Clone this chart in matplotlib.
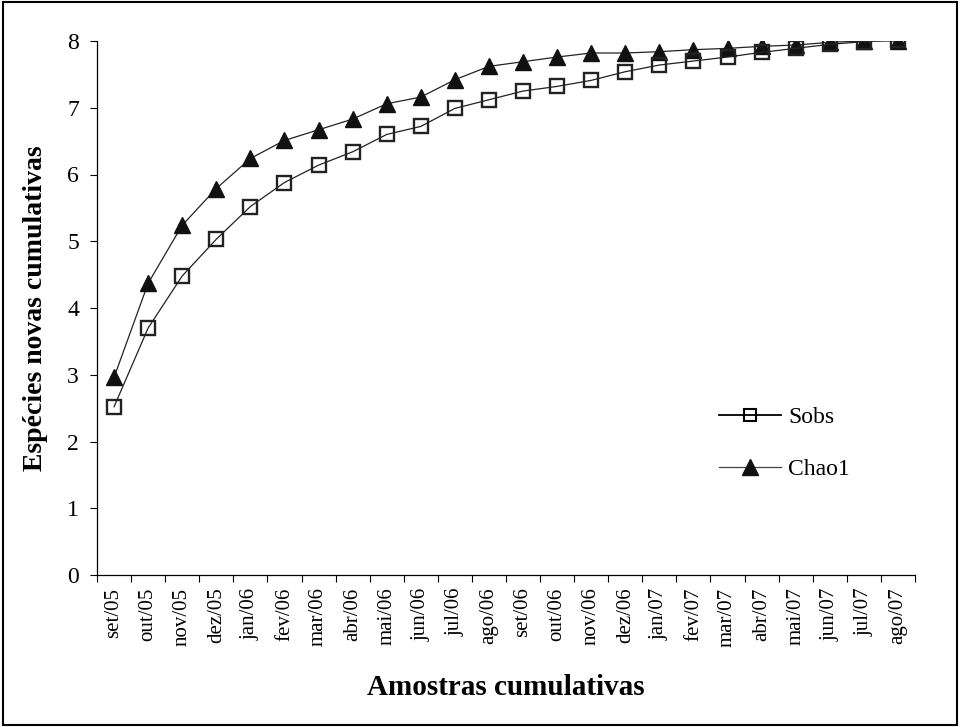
import matplotlib
matplotlib.use("Agg")
import matplotlib.pyplot as plt
from matplotlib.lines import Line2D
from matplotlib.patches import Rectangle

months = ["set/05", "out/05", "nov/05", "dez/05", "jan/06", "fev/06", "mar/06", "abr/06",
          "mai/06", "jun/06", "jul/06", "ago/06", "set/06", "out/06", "nov/06", "dez/06",
          "jan/07", "fev/07", "mar/07", "abr/07", "mai/07", "jun/07", "jul/07", "ago/07"]
sobs = [2.52, 3.70, 4.48, 5.03, 5.52, 5.88, 6.14, 6.34, 6.60, 6.72, 6.99, 7.12,
        7.25, 7.32, 7.41, 7.54, 7.64, 7.70, 7.76, 7.83, 7.89, 7.95, 7.99, 8.02]
chao1 = [2.96, 4.37, 5.24, 5.79, 6.24, 6.51, 6.67, 6.83, 7.06, 7.16, 7.42, 7.62,
         7.69, 7.76, 7.82, 7.82, 7.84, 7.87, 7.89, 7.92, 7.94, 7.98, 8.00, 8.00]
yticks = [0, 1, 2, 3, 4, 5, 6, 7, 8]

plt.rcParams['font.family'] = ['Liberation Serif', 'DejaVu Serif']

fig = plt.figure(figsize=(9.6, 7.27), dpi=100)
fig.patches.append(Rectangle((0.003, 0.003), 0.994, 0.994, transform=fig.transFigure,
                             fill=False, edgecolor='black', linewidth=1.5, zorder=10))
ax = fig.add_axes([97/960, 152/727, (915-97)/960, (575-41)/727])

x = list(range(len(months)))
ax.plot(x, chao1, color='#222222', linewidth=0.9, marker='^', markersize=11,
        markerfacecolor='#111111', markeredgecolor='#111111', label='Chao1', zorder=3)
ax.plot(x, sobs, color='#222222', linewidth=0.9, marker='s', markersize=9.5,
        markerfacecolor='none', markeredgecolor='#222222', markeredgewidth=1.7,
        label='Sobs', zorder=4)

ax.set_xlim(-0.5, len(months) - 0.5)
ax.set_ylim(0, 8)
ax.set_yticks(yticks)
ax.set_yticklabels([str(v) for v in yticks], fontsize=17)
ax.set_xticks(x)
ax.set_xticklabels(months, rotation=90, fontsize=15)
ax.set_xticks([i - 0.5 for i in range(len(months) + 1)], minor=True)
ax.tick_params(axis='x', which='major', length=0, pad=9)
ax.tick_params(axis='x', which='minor', length=5, direction='out', width=0.8)
ax.tick_params(axis='y', length=5, direction='out', width=0.8, pad=8)
for s in ['top', 'right']:
    ax.spines[s].set_visible(False)
for s in ['left', 'bottom']:
    ax.spines[s].set_linewidth(0.9)

ax.set_xlabel('Amostras cumulativas', fontsize=21, fontweight='bold', labelpad=20)
ax.set_ylabel('Espécies novas cumulativas', fontsize=20, fontweight='bold', labelpad=14)

handles = [Line2D([0], [0], color='black', linewidth=1.3, marker='s', markersize=9,
                  markerfacecolor='none', markeredgecolor='black', markeredgewidth=1.5),
           Line2D([0], [0], color='#444444', linewidth=0.9, marker='^', markersize=11,
                  markerfacecolor='#111111', markeredgecolor='#111111')]
ax.legend(handles, ['Sobs', 'Chao1'], loc='upper left', bbox_to_anchor=(0.735, 0.355),
          frameon=False, fontsize=17, handlelength=2.6, handletextpad=0.3, labelspacing=1.3)

fig.savefig('out.png', dpi=100)
